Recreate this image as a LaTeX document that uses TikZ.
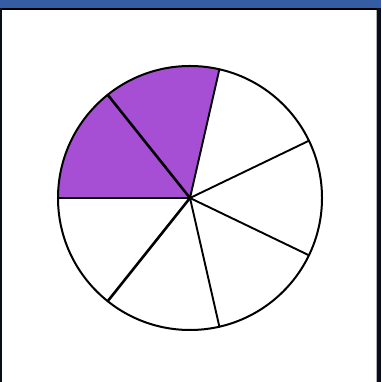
\documentclass[tikz,border=0pt]{standalone}
\usepackage{tikz}

\definecolor{sectorpurple}{RGB}{166,79,212}
\definecolor{framebl}{RGB}{52,93,164}

\begin{document}
\begin{tikzpicture}[x=1pt,y=1pt,
        spoke/.style={line width=1.9pt,line cap=round},
        heavyspoke/.style={line width=2.6pt,line cap=round},
        rim/.style={line width=2pt}]
    \useasboundingbox (0,0) rectangle (381,382);

    % Frame
    \fill[white] (0,0) rectangle (381,382);
    \fill[framebl] (0,374) rectangle (381,382);
    \fill[black] (0,372) rectangle (381,374);
    \fill[black!85!framebl] (0,0) rectangle (2,374);
    \fill[black!85!framebl] (377,0) rectangle (381,374);
    \fill[black!30] (376,0) rectangle (377,372);

    % Centre and spoke ends
    \coordinate (O) at (190,184);
    \path (O) ++(180:132) coordinate (s1);
    \path (O) ++(128.57:132) coordinate (s2);
    \path (O) ++(77.14:132) coordinate (s3);
    \path (O) ++(25.71:132) coordinate (s4);
    \path (O) ++(-25.71:132) coordinate (s5);
    \path (O) ++(-77.14:132) coordinate (s6);
    \path (O) ++(-128.57:132) coordinate (s7);

    % Purple sectors
    \fill[sectorpurple] (O) -- (s1) arc[start angle=180,end angle=77.14,radius=132] -- cycle;

    % Spokes
    \draw[heavyspoke] (O) -- (s1);
    \draw[heavyspoke] (O) -- (s2);
    \draw[spoke] (O) -- (s3);
    \draw[spoke] (O) -- (s4);
    \draw[spoke] (O) -- (s5);
    \draw[spoke] (O) -- (s6);
    \draw[heavyspoke] (O) -- (s7);

    % Rim
    \draw[rim] (O) circle[radius=132];
\end{tikzpicture}
\end{document}
